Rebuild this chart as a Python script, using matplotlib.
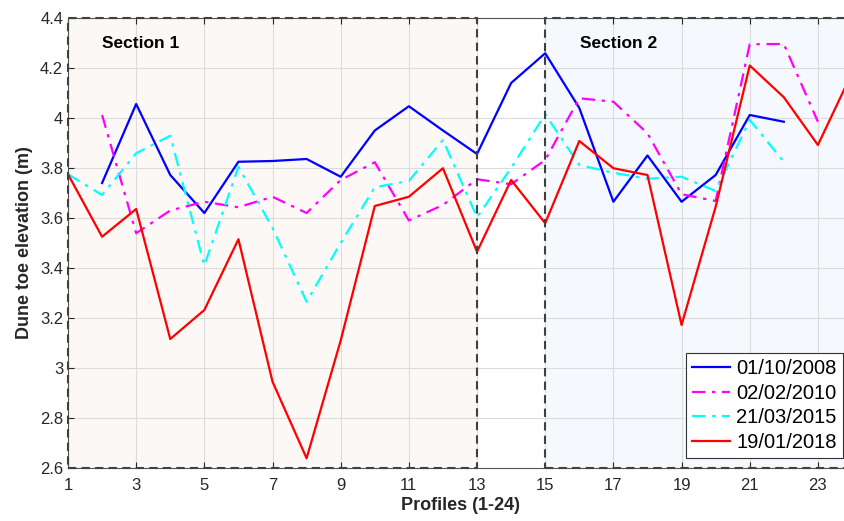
import matplotlib.pyplot as plt
from matplotlib.patches import Rectangle
from matplotlib.ticker import FormatStrFormatter, FixedLocator, MultipleLocator

plt.rcParams['font.family'] = ['Liberation Sans', 'DejaVu Sans']

# dune toe elevation (m) per profile, one list per survey date
prof_2008 = list(range(2, 23))
toe_2008 = [3.74, 4.056, 3.772, 3.62, 3.825, 3.828, 3.836, 3.765, 3.95, 4.047,
            3.95, 3.856, 4.14, 4.259, 4.04, 3.665, 3.85, 3.665, 3.772, 4.012, 3.985]

prof_2010 = list(range(2, 24))
toe_2010 = [4.012, 3.539, 3.63, 3.665, 3.643, 3.685, 3.62, 3.752, 3.823, 3.59,
            3.652, 3.755, 3.735, 3.832, 4.079, 4.065, 3.939, 3.695, 3.668, 4.295,
            4.296, 3.985]

prof_2015 = list(range(1, 23))
toe_2015 = [3.775, 3.692, 3.859, 3.929, 3.41, 3.805, 3.56, 3.265, 3.50, 3.723,
            3.748, 3.912, 3.603, 3.80, 4.015, 3.812, 3.781, 3.757, 3.765, 3.708,
            3.992, 3.825]

prof_2018 = list(range(1, 25))
toe_2018 = [3.775, 3.525, 3.636, 3.116, 3.232, 3.515, 2.945, 2.639, 3.11, 3.648,
            3.685, 3.799, 3.465, 3.752, 3.579, 3.908, 3.799, 3.772, 3.172, 3.645,
            4.21, 4.083, 3.892, 4.18]

dates = ['01/10/2008', '02/02/2010', '21/03/2015', '19/01/2018']
sections = [('Section 1', 1, 13), ('Section 2', 15, 24)]
xticks = list(range(1, 24, 2))

fig = plt.figure(figsize=(8.44, 5.21), dpi=100)
# axis runs out to profile 24, a little past the right edge of the figure
ax = fig.add_axes([68 / 844, 53 / 521, 784 / 844, 450 / 521])

dash = (4, 2.5)
dashdot = (6, 3, 1.5, 3)
ax.plot(prof_2008, toe_2008, color='#0000ff', lw=1.6, label=dates[0])
ax.plot(prof_2010, toe_2010, color='#ff00ff', lw=1.6, dashes=dashdot, label=dates[1])
ax.plot(prof_2015, toe_2015, color='#00ffff', lw=1.6, dashes=dashdot, label=dates[2])
ax.plot(prof_2018, toe_2018, color='#ff0000', lw=1.6, label=dates[3])

ax.set_xlim(1, 24)
ax.set_ylim(2.6, 4.4)

# shaded section boxes with dashed outlines
fills = ['#fcf8f5', '#f5f8fc']
for (name, x0, x1), fc in zip(sections, fills):
    ax.add_patch(Rectangle((x0, 2.6), x1 - x0, 1.8, facecolor=fc,
                           edgecolor='none', zorder=0.2))
    ax.add_patch(Rectangle((x0, 2.6), x1 - x0, 1.8, facecolor='none',
                           edgecolor='#404040', lw=1.5, linestyle=(0, dash),
                           zorder=3, clip_on=False))
    ax.text(x0 + 2.14, 4.30, name, fontsize=12.5, fontweight='bold',
            ha='center', va='center', color='black')

ax.set_axisbelow(True)
ax.grid(True, color='#dcdcdc', lw=0.8)
ax.xaxis.set_major_locator(FixedLocator(xticks))
ax.yaxis.set_major_locator(MultipleLocator(0.2))
ax.yaxis.set_major_formatter(FormatStrFormatter('%g'))
ax.tick_params(direction='in', length=4, labelsize=12, colors='#262626',
               top=True, right=False, width=0.8)
ax.tick_params(axis='x', pad=7)
for side in ['top', 'left', 'bottom']:
    ax.spines[side].set_color('#555555')
    ax.spines[side].set_linewidth(0.8)
ax.spines['right'].set_visible(False)

ax.set_xlabel('Profiles (1-24)', fontsize=13, fontweight='bold', color='#262626', labelpad=3)
ax.set_ylabel('Dune toe elevation (m)', fontsize=13, fontweight='bold', color='#262626', labelpad=5)

leg = ax.legend(loc='lower right', bbox_to_anchor=(843 / 844, 63 / 521),
                bbox_transform=fig.transFigure, borderaxespad=0, fontsize=14.5,
                fancybox=False, framealpha=1, edgecolor='#333333',
                handlelength=1.9, handletextpad=0.3, labelspacing=0.28,
                borderpad=0.3)
leg.get_frame().set_linewidth(0.8)
leg.set_zorder(5)

fig.savefig('out.png', dpi=100)
plt.close(fig)
